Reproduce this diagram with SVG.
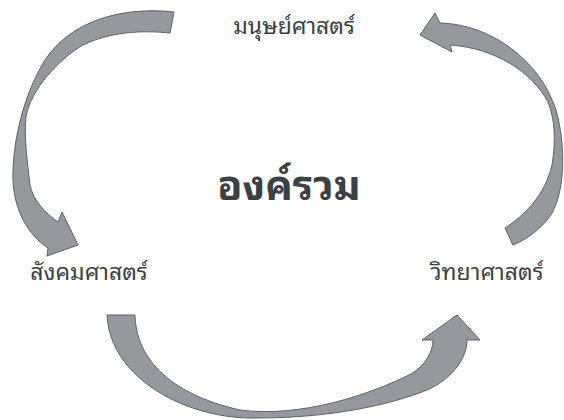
<svg xmlns="http://www.w3.org/2000/svg" width="564" height="420" viewBox="0 0 564 420">
  <style>
    .arrow { fill: #95989d; stroke: #5f6267; stroke-width: 1; stroke-linejoin: miter; }
    .label { font-family: "Noto Sans Thai Looped", "Noto Sans Thai", Tahoma, "Noto Sans", "DejaVu Sans", sans-serif; fill: #3c3f44; text-anchor: middle; }
    .small { font-size: 23px; }
    .big { font-size: 41px; font-weight: bold; }
  </style>
  <rect width="564" height="420" fill="#ffffff"/>
  <g id="connectors">
    <path id="arrow-left" class="arrow" d="M174,12 C120,6 70,22 45,60 C25,92 12,140 13,180 C14,210 28,235 48,248 L47,256 L78,245 L62,212 L58,222 C45,213 33,200 30,185 C27,160 24,135 26,117 C30,90 60,58 83,45 C110,32 140,30 170,33 Z"/>
    <path id="arrow-right" class="arrow" d="M420,35 L435,13 L440,23 C490,24 540,60 556,110 C566,145 565,190 552,213 C545,225 530,238 513,245 L505,228 C525,215 545,195 552,165 C556,140 555,120 548,102 C532,72 495,48 450,45 L452,52 Z"/>
    <path id="arrow-bottom" class="arrow" d="M107,315 L135,315 C136,355 165,393 240,410 C300,418 370,395 413,373 C425,365 433,352 433,340 L422,340 L457,315 L480,340 L467,340 C467,360 450,380 427,390 C390,405 330,418 257,418 C190,420 110,380 107,315 Z"/>
  </g>
  <g id="node-humanities"><text class="label small" x="294" y="34">มนุษย์ศาสตร์</text></g>
  <g id="node-holistic"><text class="label big" x="289" y="200">องค์รวม</text></g>
  <g id="node-social"><text class="label small" x="89" y="280">สังคมศาสตร์</text></g>
  <g id="node-science"><text class="label small" x="487" y="280">วิทยาศาสตร์</text></g>
</svg>
